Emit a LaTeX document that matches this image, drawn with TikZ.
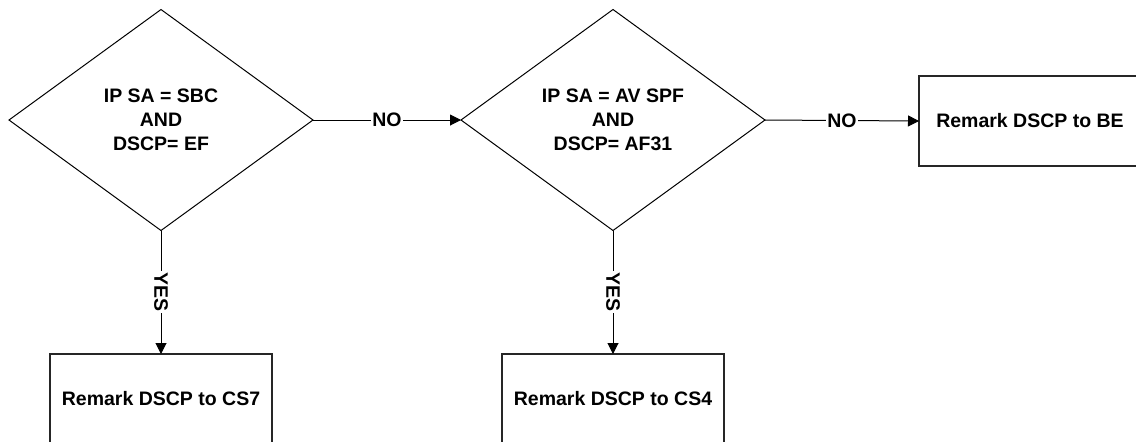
\documentclass[tikz,border=0pt]{standalone}
\usepackage{fontspec}
\setmainfont{Liberation Sans}
\usetikzlibrary{arrows.meta,positioning,shapes.geometric}
\tikzset{
  decision/.style = {diamond, draw, line width=0.5pt, minimum width=152pt, minimum height=110.5pt,
                     inner sep=1pt, outer sep=0pt, align=center, font=\flowfont},
  remark/.style   = {rectangle, draw=black!85, line width=0.75pt, minimum width=111pt,
                     minimum height=45pt, outer sep=0pt, font=\flowfont},
  wire/.style     = {line width=0.5pt},
  flow/.style     = {wire, -{Triangle[length=5.5pt, width=5.5pt]}},
  lbl/.style      = {fill=white, inner sep=0.8pt, font=\flowfont},
}
\newcommand{\flowfont}{\bfseries\fontsize{9.75}{12}\selectfont}

\begin{document}
\begin{tikzpicture}[x=0.5pt,y=-0.5pt]
  \useasboundingbox (0,0) rectangle (1136,441);
  \fill[white] (0,0) rectangle (1136,441);
  \clip (0,0) rectangle (1136,441);
  % tests
  \node[decision] (sbc) at (161,120) {IP SA = SBC\\AND\\DSCP= EF};
  \node[decision] (spf) at (613,120) {IP SA = AV SPF\\AND\\DSCP= AF31};
  % actions
  \node[remark] (be)  at (1030,121) {Remark DSCP to BE};
  \node[remark] (cs7) at (161,399)  {Remark DSCP to CS7};
  \node[remark] (cs4) at (613,399)  {Remark DSCP to CS4};
  % no branches
  \draw[flow] (sbc.east) -- node[lbl] {NO} (spf.west);
  \draw[flow] (spf.east) -- node[lbl] {NO} (be.west);
  % yes branches
  \draw[flow] (sbc.south) -- node[lbl, rotate=-90] {YES} (cs7.north);
  \draw[flow] (spf.south) -- node[lbl, rotate=-90] {YES} (cs4.north);
\end{tikzpicture}
\end{document}
